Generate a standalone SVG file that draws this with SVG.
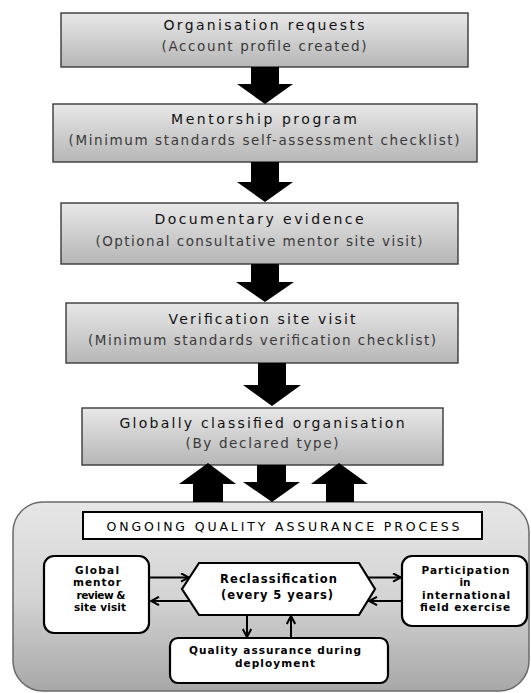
<svg xmlns="http://www.w3.org/2000/svg" width="531" height="693" viewBox="0 0 531 693">
<defs>
  <linearGradient id="boxGrad" x1="0" y1="0" x2="0" y2="1">
    <stop offset="0" stop-color="#e8e8e8"/>
    <stop offset="1" stop-color="#b6b6b6"/>
  </linearGradient>
  <linearGradient id="contGrad" x1="0" y1="0" x2="0" y2="1">
    <stop offset="0" stop-color="#e6e6e6"/>
    <stop offset="0.5" stop-color="#d4d4d4"/>
    <stop offset="1" stop-color="#a8a8a8"/>
  </linearGradient>
  <marker id="chev" viewBox="0 0 10 10" refX="9" refY="5" markerWidth="10" markerHeight="10" markerUnits="userSpaceOnUse" orient="auto">
    <path d="M1,0.8 L9,5 L1,9.2" fill="none" stroke="#000" stroke-width="2"/>
  </marker>
  <style>
    .step{fill:url(#boxGrad);stroke:#3a3a3a;stroke-width:1.4}
    .t{font-family:"DejaVu Sans",Verdana,sans-serif;font-size:14px;fill:#111;text-anchor:middle}
    .s{font-family:"DejaVu Sans",Verdana,sans-serif;font-size:13.5px;fill:#3a3a3a;text-anchor:middle}
    .w{fill:#fff;stroke:#000;stroke-width:2.2}
    .b{font-family:"DejaVu Sans",Verdana,sans-serif;font-size:10.5px;font-weight:bold;fill:#000;text-anchor:middle}
    .blk{fill:#000}
    .ln{fill:none;stroke:#000;stroke-width:2;marker-end:url(#chev)}
  </style>
</defs>
<rect width="531" height="693" fill="#fff"/>

<g id="n1">
  <rect class="step" x="61" y="13" width="407" height="54"/>
  <text class="t" x="264" y="30" textLength="201" lengthAdjust="spacing">Organisation requests</text>
  <text class="s" x="264" y="51" textLength="205" lengthAdjust="spacing">(Account profile created)</text>
</g>
<g id="n2">
  <rect class="step" x="53" y="104" width="424" height="58"/>
  <text class="t" x="264" y="124" textLength="186" lengthAdjust="spacing">Mentorship program</text>
  <text class="s" x="264" y="145" textLength="391" lengthAdjust="spacing">(Minimum standards self-assessment checklist)</text>
</g>
<g id="n3">
  <rect class="step" x="61" y="203" width="397" height="61"/>
  <text class="t" x="259" y="224" textLength="209" lengthAdjust="spacing">Documentary evidence</text>
  <text class="s" x="259" y="246" textLength="327" lengthAdjust="spacing">(Optional consultative mentor site visit)</text>
</g>
<g id="n4">
  <rect class="step" x="66" y="303" width="392" height="60"/>
  <text class="t" x="262" y="324" textLength="187" lengthAdjust="spacing">Verification site visit</text>
  <text class="s" x="262" y="345" textLength="348" lengthAdjust="spacing">(Minimum standards verification checklist)</text>
</g>
<g id="n5">
  <rect class="step" x="82" y="408" width="361" height="57"/>
  <text class="t" x="262" y="428" textLength="285" lengthAdjust="spacing">Globally classified organisation</text>
  <text class="s" x="262" y="448" textLength="153" lengthAdjust="spacing">(By declared type)</text>
</g>

<g id="qa-container">
  <rect x="13" y="502" width="516" height="189" rx="30" ry="30" fill="url(#contGrad)" stroke="#6a6a6a" stroke-width="1.5"/>
</g>
<g id="qa-title">
  <rect x="83" y="512" width="399" height="27" fill="#fff" stroke="#000" stroke-width="2"/>
  <text x="283" y="531" font-family="DejaVu Sans, Verdana, sans-serif" font-size="12.5" fill="#000" text-anchor="middle" textLength="353" lengthAdjust="spacing">ONGOING QUALITY ASSURANCE PROCESS</text>
</g>
<g id="n-mentor">
  <rect class="w" x="44" y="556" width="105" height="77" rx="10"/>
  <text class="b" x="97" y="573.5" textLength="44" lengthAdjust="spacing">Global</text>
  <text class="b" x="97" y="586" textLength="48" lengthAdjust="spacing">mentor</text>
  <text class="b" x="101" y="598.7" textLength="49" lengthAdjust="spacing">review &amp;</text>
  <text class="b" x="100" y="611.3" textLength="52" lengthAdjust="spacing">site visit</text>
</g>
<g id="n-reclass">
  <polygon class="w" points="182,589 199,563 359,563 375,589 359,615 199,615" stroke-width="2"/>
  <text x="278.5" y="583" font-family="DejaVu Sans, Verdana, sans-serif" font-size="11.5" font-weight="bold" text-anchor="middle" textLength="117" lengthAdjust="spacing">Reclassification</text>
  <text x="277" y="599" font-family="DejaVu Sans, Verdana, sans-serif" font-size="11.5" font-weight="bold" text-anchor="middle" textLength="112" lengthAdjust="spacing">(every 5 years)</text>
</g>
<g id="n-field">
  <rect class="w" x="402" y="556" width="125" height="70" rx="10"/>
  <text class="b" x="465.5" y="573.5" textLength="88" lengthAdjust="spacing">Participation</text>
  <text class="b" x="465" y="586">in</text>
  <text class="b" x="466" y="598.7" textLength="88" lengthAdjust="spacing">international</text>
  <text class="b" x="465" y="611.3" textLength="90" lengthAdjust="spacing">field exercise</text>
</g>
<g id="n-deploy">
  <rect class="w" x="170" y="638" width="218" height="45" rx="8"/>
  <text class="b" x="275" y="654" textLength="172" lengthAdjust="spacing">Quality assurance during</text>
  <text class="b" x="275" y="666.5" textLength="80" lengthAdjust="spacing">deployment</text>
</g>

<g id="connectors">
  <polygon class="blk" points="251,67 279,67 279,84 293,84 265,104 237,84 251,84"/>
  <polygon class="blk" points="251,162 279,162 279,182 293,182 265,202 237,182 251,182"/>
  <polygon class="blk" points="251,264 279,264 279,282 294,282 265,302 236,282 251,282"/>
  <polygon class="blk" points="258,363 286,363 286,385 301,385 272,406 243,385 258,385"/>
  <polygon class="blk" points="193,502 223,502 223,484 236,484 208,463 179,484 193,484"/>
  <polygon class="blk" points="257,465 286,465 286,482 300,482 272,502 243,482 257,482"/>
  <polygon class="blk" points="326,502 354,502 354,484 368,484 339,463 311,484 326,484"/>
  <line class="ln" x1="150" y1="577.5" x2="189" y2="577.5"/>
  <line class="ln" x1="190" y1="601" x2="151" y2="601"/>
  <line class="ln" x1="368" y1="577.5" x2="401" y2="577.5"/>
  <line class="ln" x1="402" y1="601" x2="369" y2="601"/>
  <line class="ln" x1="247" y1="615" x2="247" y2="637"/>
  <line class="ln" x1="291" y1="638" x2="291" y2="616"/>
</g>
</svg>
